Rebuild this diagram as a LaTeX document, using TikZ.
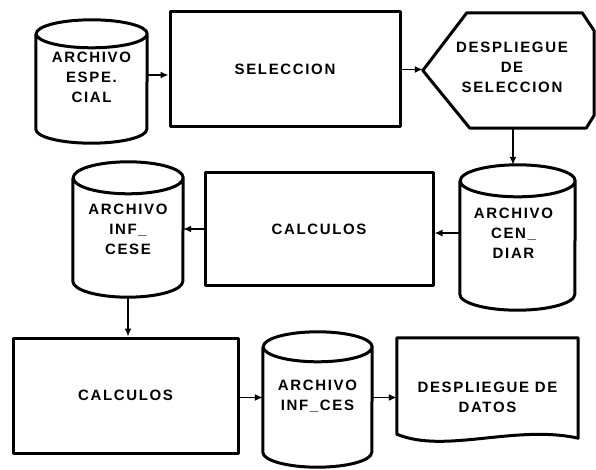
\documentclass[tikz,border=0pt]{standalone}
\usepackage{fontspec}
\newfontfamily\lblfont[LetterSpace=11]{Liberation Sans Bold}
\usetikzlibrary{arrows.meta,calc}
\newcommand\drawcyl[3]{%
  \draw[shp] ([yshift=-#3pt]#1.north west) -- ([yshift=#3pt]#1.south west)
    arc[start angle=180,end angle=360,x radius=#2pt,y radius=#3pt]
    -- ([yshift=-#3pt]#1.north east)
    arc[start angle=0,end angle=360,x radius=#2pt,y radius=#3pt];}
\begin{document}
\begin{tikzpicture}[x=1pt,y=1pt,
  shp/.style={line width=3pt,line join=round},
  conn/.style={line width=1.4pt,-{Latex[length=8pt,width=7pt]}},
  txt/.style={font=\lblfont\fontsize{15}{20}\selectfont,align=center,inner sep=0pt},
  holder/.style={inner sep=0pt,minimum width=#1},
  procbox/.style={shp,draw,txt}]
\useasboundingbox (0,0) rectangle (596,469);
% nodes
\node[holder=111pt,minimum height=123pt,
  label={[txt,yshift=4pt]center:{ARCHIVO\\ESPE.\\CIAL}}] (A) at (91.5,387.5) {};
\node[procbox,minimum width=230pt,minimum height=115pt] (S) at (285,399.5) {SELECCION};
\node[holder=171pt,minimum height=115pt,
  label={[txt,xshift=3.5pt,yshift=3pt]center:{DESPLIEGUE\\DE\\SELECCION}}] (D) at (508.5,398.5) {};
\node[holder=115pt,minimum height=145pt,
  label={[txt,xshift=-4pt,yshift=4.5pt]center:{ARCHIVO\\CEN\_\\DIAR}}] (C2) at (517.5,231.5) {};
\node[procbox,minimum width=228pt,minimum height=112pt] (K1) at (319,240) {CALCULOS};
\node[holder=110pt,minimum height=135pt,
  label={[txt]center:{ARCHIVO\\INF\_\\CESE}}] (C3) at (128,239.5) {};
\node[procbox,minimum width=225pt,minimum height=115pt] (K2) at (125.5,73.5) {CALCULOS};
\node[holder=109pt,minimum height=135pt,
  label={[txt,yshift=3pt]center:{ARCHIVO\\INF\_CES}}] (C4) at (317.5,69.5) {};
\node[holder=181pt,minimum height=101pt,
  label={[txt,yshift=-9pt]center:{DESPLIEGUE DE\\DATOS}}] (doc) at (487.5,80.5) {};
% shapes
\drawcyl{A}{55.5}{14}
\drawcyl{C2}{57.5}{16}
\drawcyl{C3}{55}{16}
\drawcyl{C4}{54.5}{15}
\draw[shp] (D.west) -- ([xshift=44pt]D.north west) -- ([xshift=-12pt]D.north east)
  -- ([yshift=-18pt]D.north east) -- ([yshift=13pt]D.south east)
  -- ([xshift=-8pt]D.south east) -- ([xshift=47pt]D.south west) -- cycle;
\draw[shp] ([yshift=5pt]doc.south west) -- (doc.north west) -- (doc.north east)
  -- ([yshift=1pt]doc.south east)
  .. controls ([xshift=-63pt,yshift=15pt]doc.south east) and ([xshift=48pt,yshift=-15pt]doc.south west)
  .. ([yshift=5pt]doc.south west) -- cycle;
% connectors
\draw[conn] ([yshift=6.5pt]A.east) -- ([yshift=6.5pt]A.east -| S.west);
\draw[conn] (S.east) -- (S.east -| D.west);
\draw[conn] ([xshift=4.5pt]D.south) -- ([xshift=4.5pt]D.south |- C2.north);
\draw[conn] ([yshift=4.5pt]C2.west) -- ([yshift=4.5pt]C2.west -| K1.east);
\draw[conn] (K1.west) -- (K1.west -| C3.east);
\draw[conn] (C3.south) -- (C3.south |- K2.north);
\draw[conn] ([yshift=-2pt]K2.east) -- ([yshift=-2pt]K2.east -| C4.west);
\draw[conn] ([yshift=2pt]C4.east) -- ([yshift=2pt]C4.east -| doc.west);
\end{tikzpicture}
\end{document}
